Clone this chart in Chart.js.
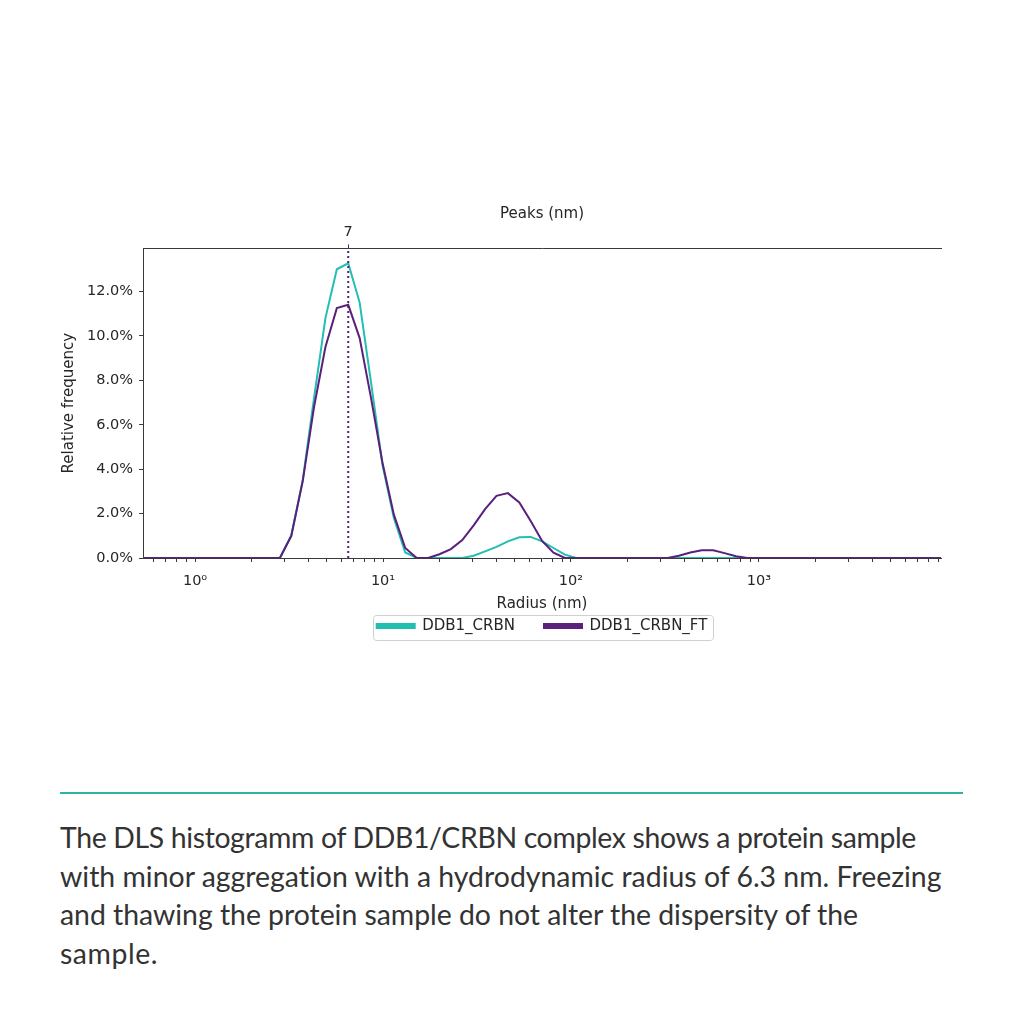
<!DOCTYPE html>
<html><head><meta charset="utf-8">
<script src="https://cdn.jsdelivr.net/npm/chart.js@4.4.1/dist/chart.umd.min.js"></script>
<style>
html,body{margin:0;padding:0;background:#fff;}
body{width:1024px;height:1024px;position:relative;overflow:hidden;}
#wrap{position:absolute;left:0;top:170px;width:1024px;height:480px;}
#rule{position:absolute;left:60px;top:792px;width:903px;height:2px;background:#2bb3a6;}
#caption{position:absolute;left:60px;top:818px;width:960px;font-family:Lato,"Noto Sans",sans-serif;font-size:26px;line-height:38.5px;color:#333;white-space:nowrap;}
</style></head><body>
<div id="wrap"><canvas id="c"></canvas></div>
<div id="rule"></div>
<div id="caption"><span>The DLS histogramm of DDB1/CRBN complex shows a protein sample</span><br><span>with minor aggregation with a hydrodynamic radius of 6.3 nm. Freezing</span><br><span>and thawing the protein sample do not alter the dispersity of the</span><br><span>sample.</span></div>
<script>
// Radius bins (nm), log-spaced
const radius = [0.529,0.608,0.699,0.804,0.925,1.063,1.223,1.406,1.617,1.859,
  2.138,2.458,2.827,3.251,3.738,4.295,4.939,5.680,6.532,7.511,
  8.637,9.928,11.42,13.13,15.10,17.36,19.96,22.96,26.40,30.35,
  34.91,40.14,46.16,53.08,61.03,70.19,80.71,92.81,106.7,122.7,
  141.1,162.3,186.6,214.6,246.8,283.8,326.3,375.2,431.5,496.2,
  570.6,656.1,754.5,867.6,997.7,1145,1316,1514,1741,2002,
  2302,2647,3044,3500,4025,4624,5317,6114,7031,8085,9297];
// Relative frequency (%)
const crbn = [0,0,0,0,0,0,0,0,0,0,
  0,0,0,1.0,3.5,7.2,10.8,13.0,13.27,11.5,
  7.9,4.2,1.8,0.25,0,0,0,0,0,0.1,
  0.3,0.5,0.75,0.93,0.95,0.75,0.45,0.15,0,0,
  0,0,0,0,0,0,0,0,0,0,
  0,0,0,0,0,0,0,0,0,0,
  0,0,0,0,0,0,0,0,0,0,0];
const crbnFT = [0,0,0,0,0,0,0,0,0,0,
  0,0,0,1.0,3.45,6.8,9.5,11.25,11.4,9.9,
  7.2,4.3,1.95,0.45,0,0,0.17,0.4,0.81,1.47,
  2.2,2.8,2.92,2.5,1.67,0.77,0.24,0,0,0,
  0,0,0,0,0,0,0,0.1,0.25,0.35,
  0.35,0.22,0.08,0,0,0,0,0,0,0,
  0,0,0,0,0,0,0,0,0,0,0];
const seriesNames = ['DDB1_CRBN','DDB1_CRBN_FT'];
const seriesColors = ['#22beb2','#5b1f7c'];
const peakRadius = 6.53;
const yTicks = [0,2,4,6,8,10,12];
const yMax = 13.94;
const xTicks = [0.6,0.7,0.8,0.9,1,2,3,4,5,6,7,8,9,10,20,30,40,50,60,70,80,90,
  100,200,300,400,500,600,700,800,900,1000,2000,3000,4000,5000,6000,7000,8000,9000];
const xDecadeLabels = {1:'10\u2070',10:'10\u00b9',100:'10\u00b2',1000:'10\u00b3'};

const toXY = (arr) => arr.map((v,i)=>({x:radius[i], y:v}));
const FONT = 'DejaVu Sans';
const TXT = '#262626';
const AX = '#3a3a3a';

const legendFrame = {
  id:'legendFrame',
  afterDraw(chart){
    const lg = chart.legend; if(!lg || !lg.legendHitBoxes || !lg.legendHitBoxes.length) return;
    const hb = lg.legendHitBoxes;
    let l=Infinity,r=-Infinity,t=Infinity,b=-Infinity;
    hb.forEach(h=>{l=Math.min(l,h.left);r=Math.max(r,h.left+h.width);t=Math.min(t,h.top);b=Math.max(b,h.top+h.height);});
    const ctx=chart.ctx; ctx.save();
    ctx.strokeStyle='#d0d0d0'; ctx.lineWidth=1;
    const x=Math.round(l-4)+0.5, y=Math.round(t-4)+0.5, w=Math.round(r-l+9), h=Math.round(b-t+10);
    ctx.beginPath(); ctx.roundRect(x,y,w,h,3); ctx.stroke(); ctx.restore();
  }
};

new Chart(document.getElementById('c'), {
  type:'line',
  data:{datasets:[
    {label:seriesNames[0], data:toXY(crbn), borderColor:seriesColors[0], backgroundColor:seriesColors[0], borderWidth:2, pointRadius:0, tension:0, fill:false, order:3},
    {label:seriesNames[1], data:toXY(crbnFT), borderColor:seriesColors[1], backgroundColor:seriesColors[1], borderWidth:2, pointRadius:0, tension:0, fill:false, order:2},
    {label:'peak', data:[{x:peakRadius,y:0},{x:peakRadius,y:yMax}], borderColor:'#4b2475', borderWidth:2, borderDash:[2,3], pointRadius:0, fill:false, order:1}
  ]},
  options:{
    responsive:true, maintainAspectRatio:false, animation:false,
    layout:{padding:{left:56,right:83,top:35,bottom:6.5}},
    plugins:{
      tooltip:{enabled:false},
      legend:{position:'bottom', fullSize:false,
        labels:{font:{family:FONT,size:15}, color:TXT, boxWidth:38, boxHeight:4, padding:29,
          filter:(it)=>it.datasetIndex<2, sort:(a,b)=>a.datasetIndex-b.datasetIndex}}
    },
    scales:{
      x:{type:'logarithmic', position:'bottom', min:radius[0], max:radius[radius.length-1],
        afterBuildTicks:(s)=>{s.ticks=xTicks.map(v=>({value:v}));},
        ticks:{autoSkip:false, maxRotation:0, padding:11, color:TXT, font:{family:FONT,size:14.5},
          callback:(v)=>xDecadeLabels[v]||''},
        grid:{drawOnChartArea:false, drawTicks:true, tickLength:4, color:AX},
        border:{display:true,color:AX,width:1},
        title:{display:true,text:'Radius (nm)',color:TXT,font:{family:FONT,size:15},padding:{top:-5.9,bottom:-24}}},
      x2:{type:'logarithmic', position:'top', min:radius[0], max:radius[radius.length-1],
        afterBuildTicks:(s)=>{s.ticks=[{value:peakRadius}];},
        ticks:{autoSkip:false, maxRotation:0, padding:3, color:TXT, font:{family:FONT,size:14.5},
          callback:(v)=>String(Math.round(v))},
        grid:{drawOnChartArea:false, drawTicks:true, tickLength:4, color:AX},
        border:{display:true,color:AX,width:1},
        title:{display:true,text:'Peaks (nm)',color:TXT,font:{family:FONT,size:15},padding:{top:0,bottom:-2}}},
      y:{type:'linear', position:'left', min:0, max:yMax,
        afterBuildTicks:(s)=>{s.ticks=yTicks.map(v=>({value:v}));},
        ticks:{padding:6, color:TXT, font:{family:FONT,size:14.5}, callback:(v)=>v.toFixed(1)+'%'},
        grid:{drawOnChartArea:false, drawTicks:true, tickLength:4, color:AX},
        border:{display:true,color:AX,width:1},
        title:{display:true,text:'Relative frequency',color:TXT,font:{family:FONT,size:15},padding:{top:4,bottom:3}}}
    }
  },
  plugins:[legendFrame]
});

// fit caption lines to the reference line widths
const cap=document.getElementById('caption');
const sp=cap.querySelectorAll('span');
const lineTargets=[856,882,798,98];
const w=sp[1].getBoundingClientRect().width;
cap.style.fontSize=(26*882/w)+'px';
sp.forEach((s,i)=>{
  const cw=s.getBoundingClientRect().width;
  const n=s.textContent.length;
  s.style.letterSpacing=((lineTargets[i]-cw)/n)+'px';
});
</script>
</body></html>
